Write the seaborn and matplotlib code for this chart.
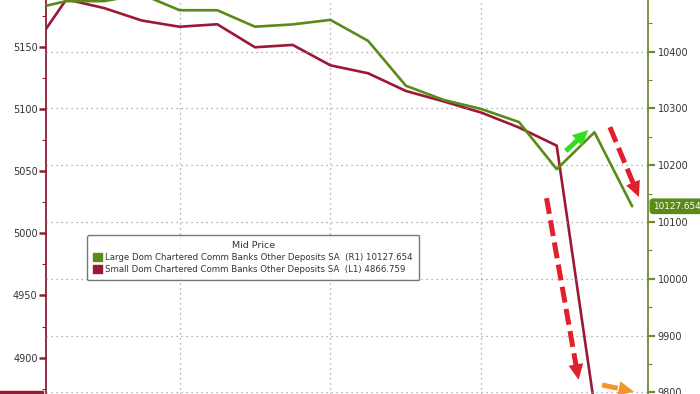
import matplotlib
matplotlib.use("Agg")
import matplotlib.pyplot as plt
import seaborn as sns
import pandas as pd
import numpy as np
from matplotlib.patches import Patch
from matplotlib.ticker import MultipleLocator

# ---- data (weekly) ----
weeks = list(range(17))
large_deposits = [10474, 10489, 10489, 10501, 10473, 10473, 10444, 10448, 10456,
                  10419, 10340, 10315, 10299, 10276, 10193, 10258, 10127.654]
small_deposits = [5144, 5188, 5181, 5171, 5166, 5168, 5149.5, 5151.4, 5135,
                  5128.6, 5114.4, 5106, 5097, 5085, 5070.4, 4861, 4866.759]
large_label = "Large Dom Chartered Comm Banks Other Deposits SA  (R1) 10127.654"
small_label = "Small Dom Chartered Comm Banks Other Deposits SA  (L1) 4866.759"
legend_title = "Mid Price"
left_ticks = [4900, 4950, 5000, 5050, 5100, 5150]
right_ticks = [9800, 9900, 10000, 10100, 10200, 10300, 10400]
month_grid = [4, 8, 12]

GREEN = "#5a8a17"
RED = "#9c1837"
GREEN_SPINE = "#6f8a35"
RED_SPINE = "#8e1f37"
TXT = "#333333"

sns.set_style("white")
plt.rcParams["font.family"] = ["DejaVu Sans"]

df = pd.DataFrame({"week": weeks, "large": large_deposits, "small": small_deposits})

fig = plt.figure(figsize=(7.0, 3.94), dpi=100)
ax = fig.add_axes([46 / 700, 0.0, 602 / 700, 1.0])
ax2 = ax.twinx()

sns.lineplot(data=df, x="week", y="small", ax=ax, color=RED, linewidth=1.9)
sns.lineplot(data=df, x="week", y="large", ax=ax2, color=GREEN, linewidth=1.9)

ax.set_xlim(0.46, 16.42)
ax.set_ylim(4870.8, 5187.5)
ax2.set_ylim(9797, 10491)

# grids
ax.set_xticks(month_grid)
ax.set_xticklabels([])
ax.tick_params(axis="x", length=0)
ax.grid(axis="x", color="#9a9a9a", linestyle=(0, (1, 3)), linewidth=0.9)
ax.grid(axis="y", visible=False)
ax2.set_yticks(right_ticks)
ax2.grid(axis="y", color="#9a9a9a", linestyle=(0, (1, 3)), linewidth=0.9)
ax2.grid(axis="x", visible=False)

# left axis
ax.set_yticks(left_ticks)
ax.yaxis.set_minor_locator(MultipleLocator(25))
ax.tick_params(axis="y", which="major", direction="out", length=5, width=1.8,
               color=RED_SPINE, labelcolor=TXT, labelsize=7, pad=1)
ax.tick_params(axis="y", which="minor", direction="out", length=3, width=0.8,
               color=RED_SPINE)
ax.set_xlabel("")
ax.set_ylabel("")
for s in ["top", "right", "bottom"]:
    ax.spines[s].set_visible(False)
ax.spines["left"].set_color(RED_SPINE)
ax.spines["left"].set_linewidth(1.3)

# right axis
ax2.yaxis.set_minor_locator(MultipleLocator(50))
ax2.tick_params(axis="y", which="major", direction="out", length=5, width=1.6,
                color=GREEN_SPINE, labelcolor=TXT, labelsize=7, pad=2)
ax2.tick_params(axis="y", which="minor", direction="out", length=3, width=0.8,
                color=GREEN_SPINE)
ax2.set_ylabel("")
for s in ["top", "left", "bottom"]:
    ax2.spines[s].set_visible(False)
ax2.spines["right"].set_color(GREEN_SPINE)
ax2.spines["right"].set_linewidth(1.3)

# last value tags
ax2.annotate(f"{large_deposits[-1]:.3f}", xy=(1.0, large_deposits[-1]),
             xycoords=("axes fraction", "data"), xytext=(3.5, 0),
             textcoords="offset points", ha="left", va="center",
             color="white", fontsize=6.4,
             bbox=dict(boxstyle="round,pad=0.3", fc=GREEN, ec=GREEN),
             annotation_clip=False)
ax.annotate(f"{small_deposits[-1]:.3f}", xy=(0.0, small_deposits[-1]),
            xycoords=("axes fraction", "data"), xytext=(-4, 0),
            textcoords="offset points", ha="right", va="center",
            color="white", fontsize=7,
            bbox=dict(boxstyle="square,pad=0.3", fc=RED, ec=RED),
            annotation_clip=False)

# legend
handles = [Patch(facecolor=GREEN, edgecolor=GREEN, label=large_label),
           Patch(facecolor=RED, edgecolor=RED, label=small_label)]
leg = ax2.legend(handles=handles, title=legend_title, loc="upper left",
                 bbox_to_anchor=(0.068, 0.404), fontsize=6.25, title_fontsize=6.8,
                 frameon=True, fancybox=True, handlelength=0.95, handleheight=0.95,
                 handletextpad=0.4, borderpad=0.75, labelspacing=0.32,
                 borderaxespad=0)
leg.get_frame().set_edgecolor("#555555")
leg.get_frame().set_linewidth(1.0)
for t in leg.get_texts():
    t.set_color(TXT)
leg.get_title().set_color(TXT)
leg.set_zorder(10)

# dashed annotation arrows (in right-axis data coordinates)
arrows = [
    ((14.24, 10225), (14.84, 10262), "#33dd22"),
    ((15.41, 10267), (16.18, 10144), "#e0202a"),
    ((13.73, 10142), (14.58, 9822), "#e0202a"),
    ((15.20, 9813), (16.05, 9801), "#f0962a"),
]
fig.canvas.draw()
tr = ax2.transData
inv = tr.inverted()
for (x0, y0), (x1, y1), c in arrows:
    p0 = np.array(tr.transform((x0, y0)))
    p1 = np.array(tr.transform((x1, y1)))
    u = (p1 - p0) / np.linalg.norm(p1 - p0)
    pe = inv.transform(p1 - u * 9)
    ax2.plot([x0, pe[0]], [y0, pe[1]], color=c, lw=3.6,
             linestyle=(0, (3.2, 1.3)), solid_capstyle="butt",
             dash_capstyle="butt", clip_on=False)
    ax2.annotate("", xy=(x1, y1), xytext=(x0, y0),
                 arrowprops=dict(arrowstyle="-|>,head_length=0.8,head_width=0.38",
                                 color=c, lw=0, shrinkA=0, shrinkB=0,
                                 mutation_scale=14),
                 annotation_clip=False)

fig.savefig("out.png", dpi=100)
